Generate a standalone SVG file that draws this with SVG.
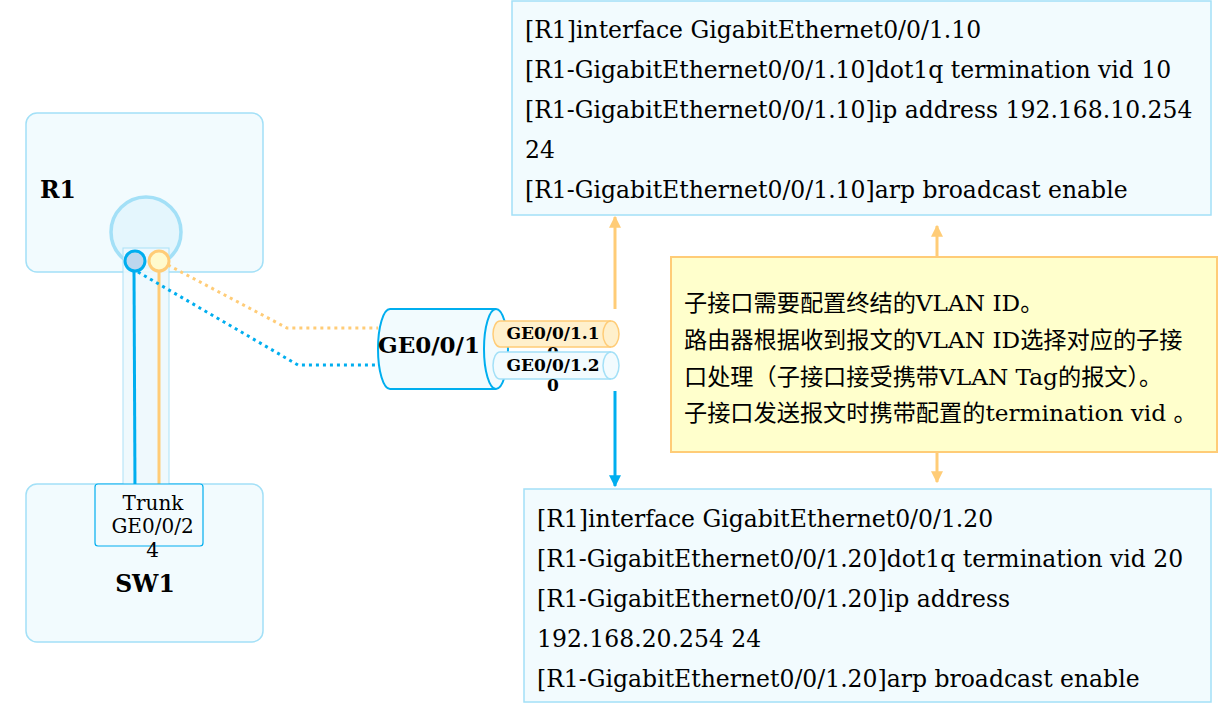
<svg xmlns="http://www.w3.org/2000/svg" width="1219" height="704" viewBox="0 0 1219 704">
<style>
.dev{fill:#f2fbfe;stroke:#a3e0f7;stroke-width:1.5}
.box{fill:#f2fbfe;stroke:#a3e0f7;stroke-width:1.5}
.t{font-family:"DejaVu Serif","Noto Sans CJK SC",serif;fill:#000}
.cfg{font-size:23.5px}
.note{font-size:23.2px}
.lbl{font-size:23.5px;font-weight:bold}
.sub{font-size:17px;font-weight:bold;text-anchor:middle}
.trk{font-size:20px;text-anchor:middle}
.blue{stroke:#00aeef}
.yel{stroke:#ffcc77}
</style>
<defs>
<marker id="ay" viewBox="0 0 10 10" refX="9" refY="5" markerWidth="4" markerHeight="4" orient="auto-start-reverse"><path d="M0,0L10,5L0,10z" fill="#ffcc77"/></marker>
<marker id="ab" viewBox="0 0 10 10" refX="9" refY="5" markerWidth="4" markerHeight="4" orient="auto-start-reverse"><path d="M0,0L10,5L0,10z" fill="#00aeef"/></marker>
</defs>

<g id="R1">
<rect class="dev" x="26" y="113" width="237" height="159" rx="11"/>
<text class="t lbl" x="40" y="198">R1</text>
<circle cx="146" cy="232" r="35" fill="#e4f6fd" stroke="#a3e0f7" stroke-width="3.5"/>
</g>

<g id="SW1">
<rect class="dev" x="26" y="484" width="237" height="158" rx="11"/>
<text class="t lbl" x="145" y="592" text-anchor="middle">SW1</text>
</g>

<g id="link-column">
<rect x="123" y="248" width="46" height="243" fill="#eef9fd" stroke="#a3e0f7" stroke-width="1" opacity="0.9"/>
</g>

<g id="connectors" fill="none">
<line class="blue" x1="134" y1="270" x2="135" y2="491" stroke-width="3"/>
<line class="yel" x1="159" y1="270" x2="159" y2="484" stroke-width="3"/>
<polyline class="yel" points="168,265 287,328 378,328" stroke-width="3" stroke-dasharray="3,4"/>
<polyline class="blue" points="138,272 298,365 378,365" stroke-width="3" stroke-dasharray="3,4"/>
<line class="yel" x1="615" y1="309" x2="615" y2="217" stroke-width="3" marker-end="url(#ay)"/>
<line class="blue" x1="615" y1="391" x2="615" y2="486" stroke-width="3" marker-end="url(#ab)"/>
<line class="yel" x1="937" y1="257" x2="937" y2="226" stroke-width="3" marker-end="url(#ay)"/>
<line class="yel" x1="937" y1="452" x2="937" y2="482" stroke-width="3" marker-end="url(#ay)"/>
</g>

<g id="ports">
<circle cx="135" cy="261" r="10" fill="#bdd7ee" stroke="#00aeef" stroke-width="3"/>
<circle cx="159" cy="261" r="10" fill="#fffacd" stroke="#ffcc77" stroke-width="3"/>
</g>

<g id="trunk">
<rect x="95" y="484" width="108" height="62" rx="3" fill="#f2fbfe" stroke="#00aeef" stroke-width="1.2"/>
<text class="t trk" x="153" y="510">Trunk</text>
<text class="t trk" x="152.5" y="533">GE0/0/2</text>
<text class="t trk" x="152.5" y="557">4</text>
</g>

<g id="GE0-0-1">
<path d="M390,309 L496,309 A12,40 0 0 1 496,389 L390,389 A12,40 0 0 1 390,309 Z" fill="#f2fbfe" stroke="#00aeef" stroke-width="2"/>
<path d="M496,309 A12,40 0 0 0 496,389" fill="none" stroke="#00aeef" stroke-width="2"/>
<text class="t lbl" x="429" y="353" text-anchor="middle" style="font-size:23px">GE0/0/1</text>
</g>

<g id="GE0-0-1.10">
<path d="M500,321 L611,321 A8,13 0 0 1 611,347 L500,347 A7,13 0 0 1 500,321 Z" fill="#fff0cc" stroke="#ffcc77" stroke-width="1.5"/>
<path d="M611,321 A8,13 0 0 0 611,347" fill="none" stroke="#ffcc77" stroke-width="1.5"/>
<text class="t sub" x="553" y="339">GE0/0/1.1</text>
<text class="t sub" x="553" y="359">0</text>
</g>

<g id="GE0-0-1.20">
<path d="M500,352 L611,352 A8,13.5 0 0 1 611,379 L500,379 A7,13.5 0 0 1 500,352 Z" fill="#f2fbfe" stroke="#a3e0f7" stroke-width="1.5"/>
<path d="M611,352 A8,13.5 0 0 0 611,379" fill="none" stroke="#a3e0f7" stroke-width="1.5"/>
<text class="t sub" x="553" y="371">GE0/0/1.2</text>
<text class="t sub" x="553" y="391">0</text>
</g>

<g id="cfg-10">
<rect class="box" x="512" y="1" width="699" height="214"/>
<text class="t cfg" x="525" y="38">[R1]interface GigabitEthernet0/0/1.10</text>
<text class="t cfg" x="525" y="78">[R1-GigabitEthernet0/0/1.10]dot1q termination vid 10</text>
<text class="t cfg" x="525" y="118">[R1-GigabitEthernet0/0/1.10]ip address 192.168.10.254</text>
<text class="t cfg" x="525" y="158">24</text>
<text class="t cfg" x="525" y="198">[R1-GigabitEthernet0/0/1.10]arp broadcast enable</text>
</g>

<g id="cfg-20">
<rect class="box" x="524" y="489" width="687" height="213"/>
<text class="t cfg" x="537" y="527">[R1]interface GigabitEthernet0/0/1.20</text>
<text class="t cfg" x="537" y="567">[R1-GigabitEthernet0/0/1.20]dot1q termination vid 20</text>
<text class="t cfg" x="537" y="607">[R1-GigabitEthernet0/0/1.20]ip address</text>
<text class="t cfg" x="537" y="647">192.168.20.254 24</text>
<text class="t cfg" x="537" y="687">[R1-GigabitEthernet0/0/1.20]arp broadcast enable</text>
</g>

<g id="note">
<rect x="671" y="257" width="546" height="195" fill="#ffffcc" stroke="#ffcc77" stroke-width="2"/>
<text class="t note" x="684" y="311">子接口需要配置终结的VLAN ID。</text>
<text class="t note" x="684" y="348">路由器根据收到报文的VLAN ID选择对应的子接</text>
<text class="t note" x="684" y="385">口处理（子接口接受携带VLAN Tag的报文）。</text>
<text class="t note" x="684" y="421">子接口发送报文时携带配置的termination vid 。</text>
</g>
</svg>
